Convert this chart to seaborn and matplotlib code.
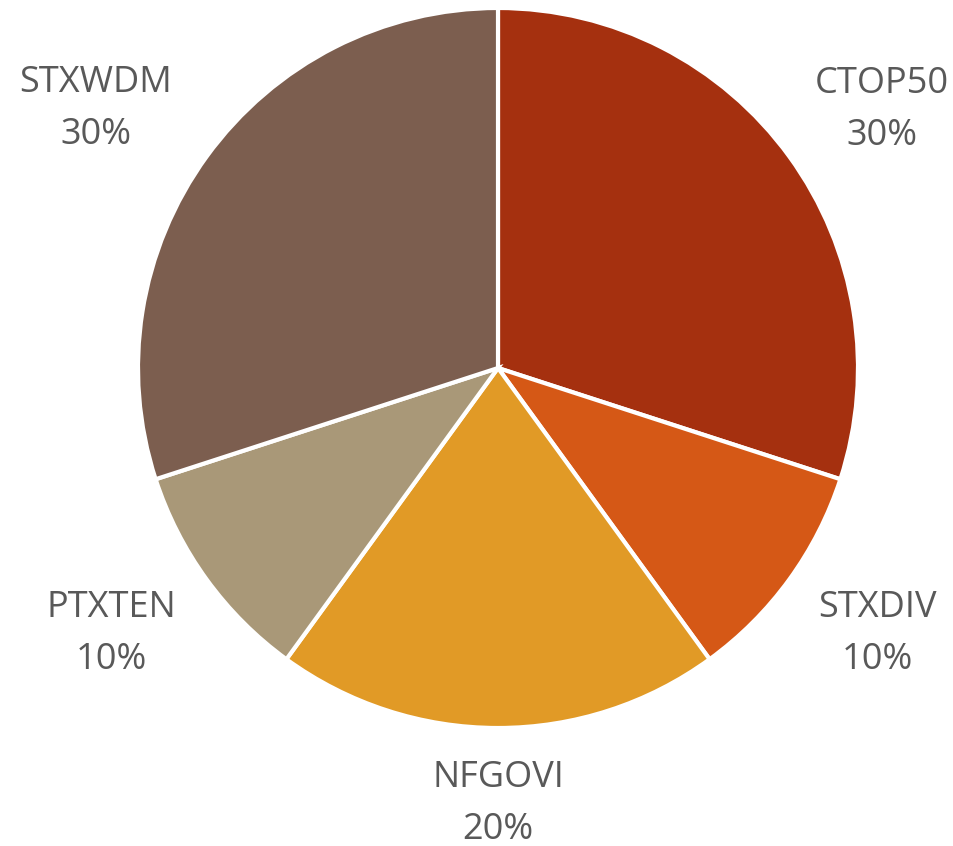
import matplotlib
matplotlib.use("Agg")
import matplotlib.pyplot as plt
import seaborn as sns

categories = ["CTOP50", "STXDIV", "NFGOVI", "PTXTEN", "STXWDM"]
shares = [30, 10, 20, 10, 30]
colors_hex = ["#A5300F", "#D55816", "#E19A26", "#A99878", "#7C5E4F"]
# label anchor positions in pie-radius units
label_x = [1.067, 1.053, 0.0, -1.075, -1.117]
label_y = [0.717, -0.739, -1.211, -0.739, 0.720]

sns.set_theme(style="white")
plt.rcParams['font.family'] = ['Open Sans', 'DejaVu Sans']
palette = sns.color_palette(colors_hex)

fig = plt.figure(figsize=(9.54, 8.46), dpi=100)
ax = fig.add_axes([0, 0, 1, 1])
wedges, _ = ax.pie(shares, colors=palette, startangle=90, counterclock=False,
                   radius=1.0, wedgeprops=dict(edgecolor="white", linewidth=3))
for name, val, x, y in zip(categories, shares, label_x, label_y):
    ax.text(x, y, f"{name}\n{val}%", ha="center", va="center",
            fontsize=26, color="#595959", linespacing=1.58)
ax.set_xlim(-498/360, (954-498)/360)
ax.set_ylim(-478/360, 368/360)
ax.set_aspect("auto")
ax.axis("off")
fig.savefig("out.png", dpi=100, facecolor="white")
